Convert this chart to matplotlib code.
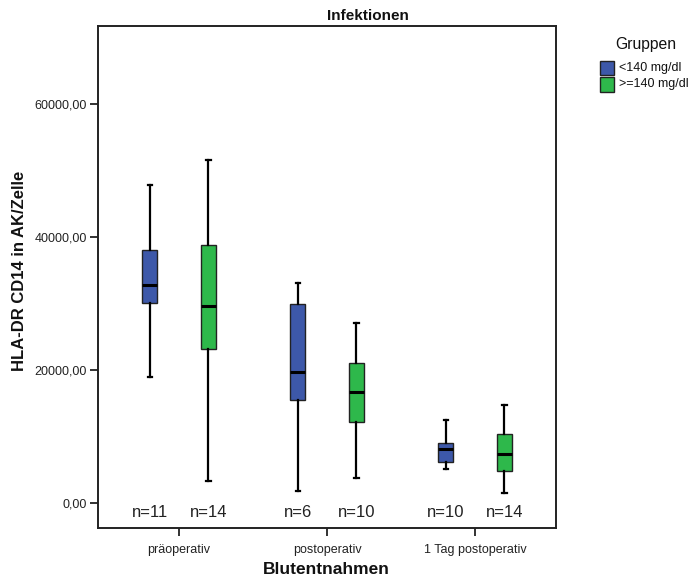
import matplotlib
matplotlib.use("Agg")
import matplotlib.pyplot as plt
from matplotlib.patches import Rectangle
from matplotlib.transforms import blended_transform_factory

plt.rcParams['font.family'] = ['Liberation Sans', 'DejaVu Sans']

categories = ["präoperativ", "postoperativ", "1 Tag postoperativ"]
groups = ["<140 mg/dl", ">=140 mg/dl"]
colors = ["#3D58A9", "#2EB84B"]

# per group, per category: whislo, q1, median, q3, whishi
low_whisk = [[19040, 1800, 5200], [3350, 3760, 1600]]
q1_vals   = [[30170, 15540, 6260], [23210, 12180, 4900]]
medians   = [[32790, 19790, 8170], [29630, 16690, 7370]]
q3_vals   = [[38100, 30020, 9110], [38890, 21100, 10380]]
high_whisk = [[47830, 33180, 12570], [51530, 27160, 14830]]
n_counts  = [[11, 6, 10], [14, 10, 14]]

yticks = [0, 20000, 40000, 60000]
yticklabels = ["0,00", "20000,00", "40000,00", "60000,00"]

W, H = 691, 580
fig = plt.figure(figsize=(W / 100, H / 100), dpi=100)
ax = fig.add_axes([98 / W, 1 - 528.3 / H, (556 - 98) / W, (528.3 - 25.7) / H])

offsets = [-0.197, 0.198]
trans = blended_transform_factory(ax.transData, ax.transAxes)
for g in range(2):
    stats = []
    pos = []
    for c in range(3):
        stats.append(dict(whislo=low_whisk[g][c], q1=q1_vals[g][c], med=medians[g][c],
                          q3=q3_vals[g][c], whishi=high_whisk[g][c], fliers=[]))
        pos.append(c + offsets[g])
    ax.bxp(stats, positions=pos, widths=0.101, capwidths=0.03, patch_artist=True,
           showfliers=False, manage_ticks=False,
           boxprops=dict(facecolor=colors[g], edgecolor="#222222", linewidth=1.0),
           medianprops=dict(color="black", linewidth=2.2, solid_capstyle="butt"),
           whiskerprops=dict(color="black", linewidth=1.6),
           capprops=dict(color="black", linewidth=1.6))
    for c in range(3):
        ax.text(c + offsets[g], 0.0305, f"n={n_counts[g][c]}", transform=trans,
                ha="center", va="center", fontsize=12, color="#222222")

ax.set_xlim(-0.547, 2.547)
ax.set_ylim(-3760, 71780)
ax.set_yticks(yticks)
ax.set_yticklabels(yticklabels, fontsize=9, color="#222222")
ax.set_xticks(range(3))
ax.set_xticklabels(categories, fontsize=9, color="#222222")
ax.tick_params(axis="y", direction="out", length=6, width=1.3, pad=2, colors="#222222")
ax.tick_params(axis="x", direction="out", length=6, width=1.3, pad=5, colors="#222222")
for s in ax.spines.values():
    s.set_linewidth(1.4)
    s.set_color("#222222")

fig.text(368 / W, 1 - 16.5 / H, "Infektionen", ha="center", va="center",
         fontsize=11, fontweight="bold", color="#111111")
fig.text(20 / W, 1 - 271 / H, "HLA-DR CD14 in AK/Zelle", rotation=90, ha="center",
         va="center", fontsize=12, fontweight="bold", color="#111111")
fig.text(326 / W, 1 - 570 / H, "Blutentnahmen", ha="center", va="center",
         fontsize=12.5, fontweight="bold", color="#111111")

# legend
fig.text(645.5 / W, 1 - 45 / H, "Gruppen", ha="center", va="center", fontsize=11.3,
         color="#111111")
leg_y = [68, 84.5]
for g in range(2):
    fig.patches.append(Rectangle((600 / W, 1 - (leg_y[g] + 7) / H), 14 / W, 14 / H,
                                 transform=fig.transFigure, facecolor=colors[g],
                                 edgecolor="#222222", linewidth=1.0))
    fig.text(619 / W, 1 - leg_y[g] / H, groups[g], ha="left", va="center", fontsize=9,
             color="#111111")

fig.savefig("out.png", dpi=100)
